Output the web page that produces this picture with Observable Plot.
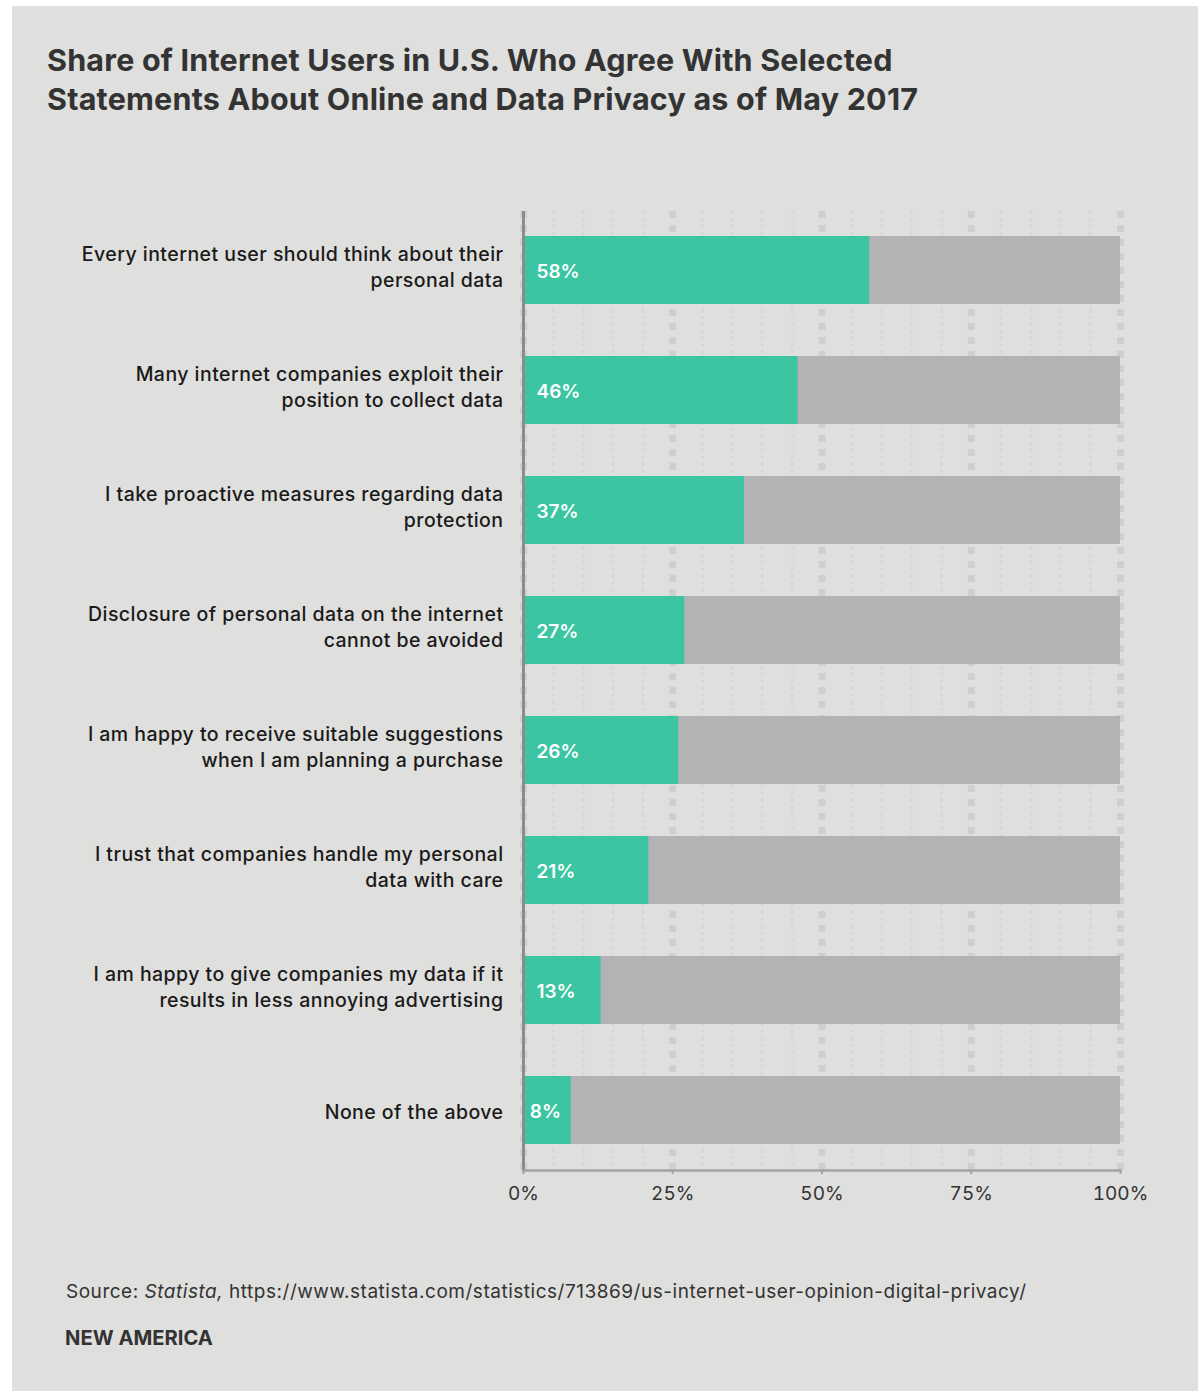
<!DOCTYPE html>
<html>
<head>
<meta charset="utf-8">
<script src="https://cdn.jsdelivr.net/npm/d3@7"></script>
<script src="https://cdn.jsdelivr.net/npm/@observablehq/plot@0.6"></script>
<style>
  html, body { margin: 0; padding: 0; background: #ffffff; }
  #card { position: absolute; left: 12px; top: 6px; width: 1186px; height: 1385px; background: #dfdfdd; font-family: Inter, "Noto Sans", sans-serif; }
  #title { position: absolute; left: 35px; top: 34px; font-size: 30.5px; line-height: 39px; font-weight: 700; color: #333333; letter-spacing: 0.2px; white-space: nowrap; }
  #chart { position: absolute; left: 0; top: 174px; }
  #chart g[font-size="19.5"] text { letter-spacing: 0.45px; }
  #source { position: absolute; left: 54px; top: 1274px; font-size: 19px; line-height: 24px; color: #333333; letter-spacing: 0.52px; white-space: nowrap; }
  #brand { position: absolute; left: 53px; top: 1320px; font-size: 20.2px; line-height: 24px; color: #333333; font-weight: 700; letter-spacing: 0px; }
</style>
</head>
<body>
<div id="card">
  <div id="title">Share of Internet Users in U.S. Who Agree With Selected<br>Statements About Online and Data Privacy as of May 2017</div>
  <div id="chart"></div>
  <div id="source">Source: <i>Statista,</i> https://www.statista.com/statistics/713869/us-internet-user-opinion-digital-privacy/</div>
  <div id="brand">NEW AMERICA</div>
</div>
<script>
const categories = [
  "Every internet user should think about their\npersonal data",
  "Many internet companies exploit their\nposition to collect data",
  "I take proactive measures regarding data\nprotection",
  "Disclosure of personal data on the internet\ncannot be avoided",
  "I am happy to receive suitable suggestions\nwhen I am planning a purchase",
  "I trust that companies handle my personal\ndata with care",
  "I am happy to give companies my data if it\nresults in less annoying advertising",
  "None of the above"
];
const agreeShare = [58, 46, 37, 27, 26, 21, 13, 8];
const xTicks = [0, 25, 50, 75, 100];

const data = categories.map((c, i) => ({category: c, value: agreeShare[i]}));
const minorGrid = d3.range(5, 100, 5).filter(v => v % 25 !== 0);
const labelStyle = {x: 0, y: "category", text: "category", textAnchor: "end", dx: -20, fill: "#1a1a1a", fontSize: 19.5, fontWeight: 500, lineHeight: 1.33};

const chart = Plot.plot({
  width: 1186,
  height: 1040,
  marginLeft: 511,
  marginRight: 78,
  marginTop: 31,
  marginBottom: 50,
  style: {background: "transparent", fontFamily: "Inter, 'Noto Sans', sans-serif", overflow: "visible"},
  x: {domain: [0, 100], ticks: xTicks},
  y: {domain: categories, paddingInner: 0.433, paddingOuter: 0.212, axis: null},
  marks: [
    Plot.ruleX(minorGrid, {stroke: "#d5d5d4", strokeWidth: 2.5, strokeDasharray: "2.5,4.5"}),
    Plot.ruleX(xTicks, {stroke: "#cfcfce", strokeWidth: 7, strokeDasharray: "7,7"}),
    Plot.barX(data, {x1: 0, x2: 100, y: "category", fill: "#b3b2b4"}),
    Plot.barX(data, {x1: 0, x2: "value", y: "category", fill: "#3cc5a2"}),
    Plot.text(data.filter(d => d.value >= 10), {x: 0, y: "category", text: d => d.value + "%", textAnchor: "start", dx: 13, dy: 1, fill: "#ffffff", fontSize: 19, fontWeight: 600}),
    Plot.text(data.filter(d => d.value < 10), {x: d => d.value / 2, y: "category", text: d => d.value + "%", textAnchor: "middle", dx: -2, dy: 1, fill: "#ffffff", fontSize: 19, fontWeight: 600}),
    Plot.text(data.filter(d => d.category.includes("\n")), {...labelStyle, dy: -5}),
    Plot.text(data.filter(d => !d.category.includes("\n")), {...labelStyle, dy: 0}),
    Plot.ruleX([0], {stroke: "#8c8c8c", strokeWidth: 3}),
    Plot.frame({anchor: "bottom", stroke: "#a3a3a3", strokeWidth: 2.5}),
    Plot.axisX({ticks: xTicks, tickFormat: d => d + "%", tickSize: 4, tickPadding: 12, fontSize: 19, stroke: "#a3a3a3", strokeWidth: 2, fill: "#333333", label: null})
  ]
});
document.getElementById("chart").appendChild(chart);
</script>
</body>
</html>
